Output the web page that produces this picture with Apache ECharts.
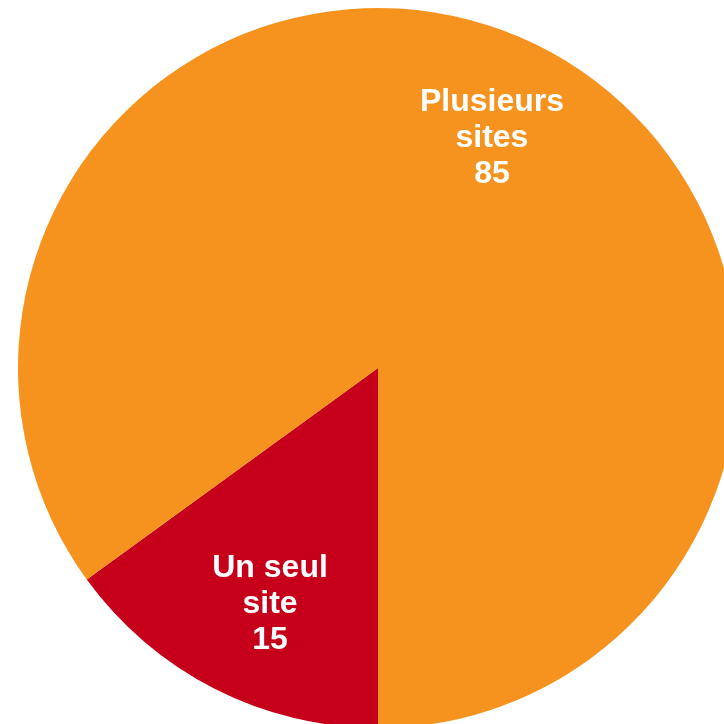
<!DOCTYPE html>
<html>
<head>
<meta charset="utf-8">
<script src="https://cdn.jsdelivr.net/npm/echarts@6/dist/echarts.min.js"></script>
<style>
  html, body { margin: 0; padding: 0; background: #ffffff; }
  #chart { width: 724px; height: 724px; }
</style>
</head>
<body>
<div id="chart"></div>
<script>
// Share of respondents by number of sites
const categories = ['Un seul\nsite', 'Plusieurs\nsites'];
const values = [15, 85];
const colors = ['#C6001B', '#F6931F'];
// small nudges of each label away from the slice's mid-angle
const labelNudges = [[11, 3], [-5, 4]];

const pieData = categories.map((name, i) => ({
  name: name,
  value: values[i],
  itemStyle: { color: colors[i] }
}));

const labelData = categories.map((name, i) => ({
  name: name,
  value: values[i],
  label: { offset: labelNudges[i] }
}));

const chart = echarts.init(document.getElementById('chart'), null, { renderer: 'canvas' });
chart.setOption({
  animation: false,
  backgroundColor: '#ffffff',
  series: [
    {
      // filled slices
      type: 'pie',
      center: [378, 368],
      radius: [0, 360],
      startAngle: 270,
      clockwise: true,
      silent: true,
      label: { show: false },
      labelLine: { show: false },
      itemStyle: { borderWidth: 0 },
      data: pieData
    },
    {
      // transparent ring carrying the slice labels further out
      type: 'pie',
      center: [378, 368],
      radius: [158, 360],
      startAngle: 270,
      clockwise: true,
      silent: true,
      itemStyle: { color: 'rgba(0,0,0,0)', borderWidth: 0 },
      labelLine: { show: false },
      label: {
        show: true,
        position: 'inside',
        formatter: p => p.name + '\n' + p.value,
        color: '#ffffff',
        fontFamily: '"Liberation Sans", Arial, sans-serif',
        fontWeight: 'bold',
        fontSize: 32,
        lineHeight: 36,
        align: 'center'
      },
      data: labelData
    }
  ]
});
</script>
</body>
</html>
